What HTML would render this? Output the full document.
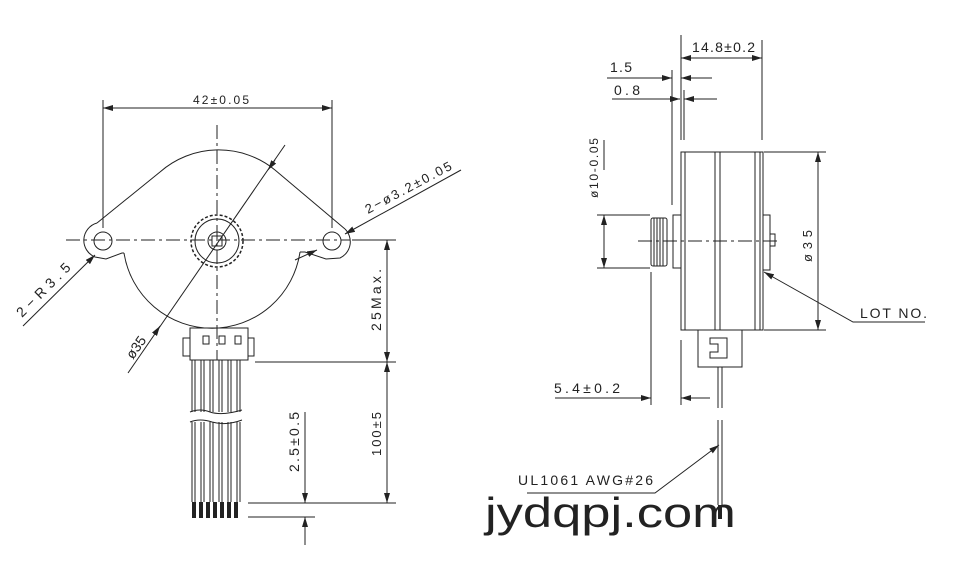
<!DOCTYPE html>
<html><head><meta charset="utf-8"><style>
html,body{margin:0;padding:0;background:#fff}
svg{display:block}
text{font-family:"Liberation Sans",sans-serif;fill:#222}
</style></head><body>
<svg width="966" height="563" viewBox="0 0 966 563" xmlns="http://www.w3.org/2000/svg">
<defs>
<marker id="a" viewBox="0 0 10 6" refX="10" refY="3" markerWidth="10" markerHeight="6" orient="auto-start-reverse" markerUnits="userSpaceOnUse"><path d="M0,0L10,3L0,6z" fill="#222"/></marker>
</defs>
<g stroke="#222" stroke-width="1" fill="none">
<line x1="66" y1="240" x2="350" y2="240" stroke-dasharray="14,4,3,4"/>
<line x1="217" y1="125" x2="217" y2="360" stroke-dasharray="14,4,3,4"/>
<path d="M124,253 A89,89 0 0 0 300,252"/>
<path d="M97,223 L160,172 A89,89 0 0 1 275,170 L345,229"/>
<path d="M97,223 A18,18 0 0 0 95,257 L106,259 L122,253 L124,253"/>
<path d="M345,229 A18,18 0 0 1 340,258 L326,259 L305,252 L300,252"/>
<circle cx="103" cy="241" r="9"/>
<circle cx="332" cy="241" r="9"/>
<circle cx="217" cy="241" r="26" stroke-dasharray="3,2" stroke-width="1.5"/>
<circle cx="217" cy="241" r="22"/>
<circle cx="217" cy="241" r="9"/>
<rect x="212" y="236" width="10" height="10"/>
<rect x="190" y="328" width="58" height="32"/>
<rect x="183" y="338" width="7" height="18"/>
<rect x="248" y="338" width="6" height="18"/>
<rect x="203" y="336" width="6" height="8"/>
<rect x="219" y="336" width="6" height="8"/>
<rect x="235" y="336" width="6" height="8"/>
<path d="M192,360V412M195,360V412M201,360V412M204,360V412M210,360V412M213,360V412M219,360V412M222,360V412M228,360V412M231,360V412M237,360V412M240,360V412"/>
<path d="M190,412Q200,408 210,412Q222,416 242,410"/>
<path d="M190,422Q200,418 212,422Q226,426 242,420"/>
<path d="M192,422V502M195,422V502M201,422V502M204,422V502M210,422V502M213,422V502M219,422V502M222,422V502M228,422V502M231,422V502M237,422V502M240,422V502"/>
<line x1="103" y1="100" x2="103" y2="228"/>
<line x1="332" y1="100" x2="332" y2="228"/>
<line x1="103" y1="108" x2="332" y2="108" marker-start="url(#a)" marker-end="url(#a)"/>
<line x1="23" y1="326" x2="95" y2="255" marker-end="url(#a)"/>
<line x1="128" y1="373" x2="285" y2="145"/>
<line x1="160" y1="326" x2="156" y2="332" marker-start="url(#a)"/>
<line x1="275" y1="160" x2="268" y2="170" marker-end="url(#a)"/>
<line x1="461" y1="170" x2="345" y2="234" marker-end="url(#a)"/>
<line x1="295" y1="260" x2="317" y2="250" marker-end="url(#a)"/>
<line x1="352" y1="240" x2="396" y2="240"/>
<line x1="255" y1="362" x2="396" y2="362"/>
<line x1="387" y1="240" x2="387" y2="362" marker-start="url(#a)" marker-end="url(#a)"/>
<line x1="387" y1="362" x2="387" y2="503" marker-start="url(#a)" marker-end="url(#a)"/>
<line x1="248" y1="503" x2="396" y2="503"/>
<line x1="248" y1="517" x2="315" y2="517"/>
<line x1="305" y1="412" x2="305" y2="503" marker-end="url(#a)"/>
<line x1="305" y1="545" x2="305" y2="517" marker-end="url(#a)"/>
<rect x="681" y="152" width="82" height="178"/>
<path d="M685,152V330M715,152V330M720,152V330M755,152V330M760,152V330"/>
<rect x="673" y="215" width="8" height="53"/>
<rect x="651" y="218" width="16" height="48" rx="2"/>
<path d="M654,218V266M657,218V266M660,218V266M663,218V266"/>
<rect x="763" y="215" width="7" height="55"/>
<rect x="770" y="234" width="5" height="12"/>
<line x1="638" y1="241" x2="780" y2="241" stroke-dasharray="14,4,3,4"/>
<path d="M698,330V367H742V330"/>
<path d="M710,338H727V358H710V352H718V344H710Z"/>
<path d="M718,367V408M722,367V408M718,420V505M722,420V505"/>
<line x1="681" y1="35" x2="681" y2="140"/>
<line x1="762" y1="40" x2="762" y2="140"/>
<line x1="681" y1="58" x2="762" y2="58" marker-start="url(#a)" marker-end="url(#a)"/>
<line x1="672" y1="70" x2="672" y2="205"/>
<line x1="684" y1="90" x2="684" y2="140"/>
<line x1="607" y1="78" x2="672" y2="78" marker-end="url(#a)"/>
<line x1="712" y1="78" x2="681" y2="78" marker-end="url(#a)"/>
<line x1="612" y1="99" x2="680" y2="99" marker-end="url(#a)"/>
<line x1="717" y1="99" x2="684" y2="99" marker-end="url(#a)"/>
<line x1="604" y1="140" x2="604" y2="170"/>
<line x1="597" y1="215" x2="650" y2="215"/>
<line x1="597" y1="268" x2="650" y2="268"/>
<line x1="604" y1="215" x2="604" y2="268" marker-start="url(#a)" marker-end="url(#a)"/>
<line x1="764" y1="152" x2="826" y2="152"/>
<line x1="764" y1="330" x2="826" y2="330"/>
<line x1="818" y1="152" x2="818" y2="330" marker-start="url(#a)" marker-end="url(#a)"/>
<path d="M925,322H853L764,272" marker-end="url(#a)"/>
<line x1="651" y1="272" x2="651" y2="405"/>
<line x1="681" y1="340" x2="681" y2="405"/>
<line x1="555" y1="398" x2="651" y2="398" marker-end="url(#a)"/>
<line x1="710" y1="398" x2="681" y2="398" marker-end="url(#a)"/>
<path d="M527,493H655L719,445" marker-end="url(#a)"/>
</g>
<rect x="718" y="505" width="4" height="14" fill="#222"/>
<g fill="#222"><rect x="192" y="502" width="4" height="16"/><rect x="199" y="502" width="4" height="16"/><rect x="206" y="502" width="4" height="16"/><rect x="213" y="502" width="4" height="16"/><rect x="220" y="502" width="4" height="16"/><rect x="227" y="502" width="4" height="16"/><rect x="234" y="502" width="4" height="16"/></g>
<text x="193" y="104" font-size="12" textLength="56">42±0.05</text>
<text x="0" y="0" font-size="14" textLength="70" transform="translate(22,318) rotate(-45)">2−R3.5</text>
<text x="0" y="0" font-size="14" transform="translate(133,360) rotate(-55)">ø35</text>
<text x="0" y="0" font-size="13" textLength="96" transform="translate(368,214) rotate(-28)">2−ø3.2±0.05</text>
<text x="0" y="0" font-size="14" textLength="62" transform="translate(381,331) rotate(-90)">25Max.</text>
<text x="0" y="0" font-size="13" textLength="44" transform="translate(381,456) rotate(-90)">100±5</text>
<text x="0" y="0" font-size="14" textLength="60" transform="translate(299,472) rotate(-90)">2.5±0.5</text>
<text x="692" y="52" font-size="14" textLength="63">14.8±0.2</text>
<text x="610" y="72" font-size="14" textLength="22">1.5</text>
<text x="614" y="95" font-size="14" textLength="26">0.8</text>
<text x="0" y="0" font-size="12" textLength="60" transform="translate(598,198) rotate(-90)">ø10-0.05</text>
<text x="0" y="0" font-size="13" textLength="32" transform="translate(812,262) rotate(-90)">ø35</text>
<text x="860" y="318" font-size="14" textLength="67">LOT  NO.</text>
<text x="554" y="393" font-size="14" textLength="66">5.4±0.2</text>
<text x="518" y="485" font-size="14" textLength="135">UL1061  AWG#26</text>
<text x="0" y="0" font-size="42" transform="translate(485,527) scale(1.25,1)">jydqpj.com</text>
</svg>
</body></html>
